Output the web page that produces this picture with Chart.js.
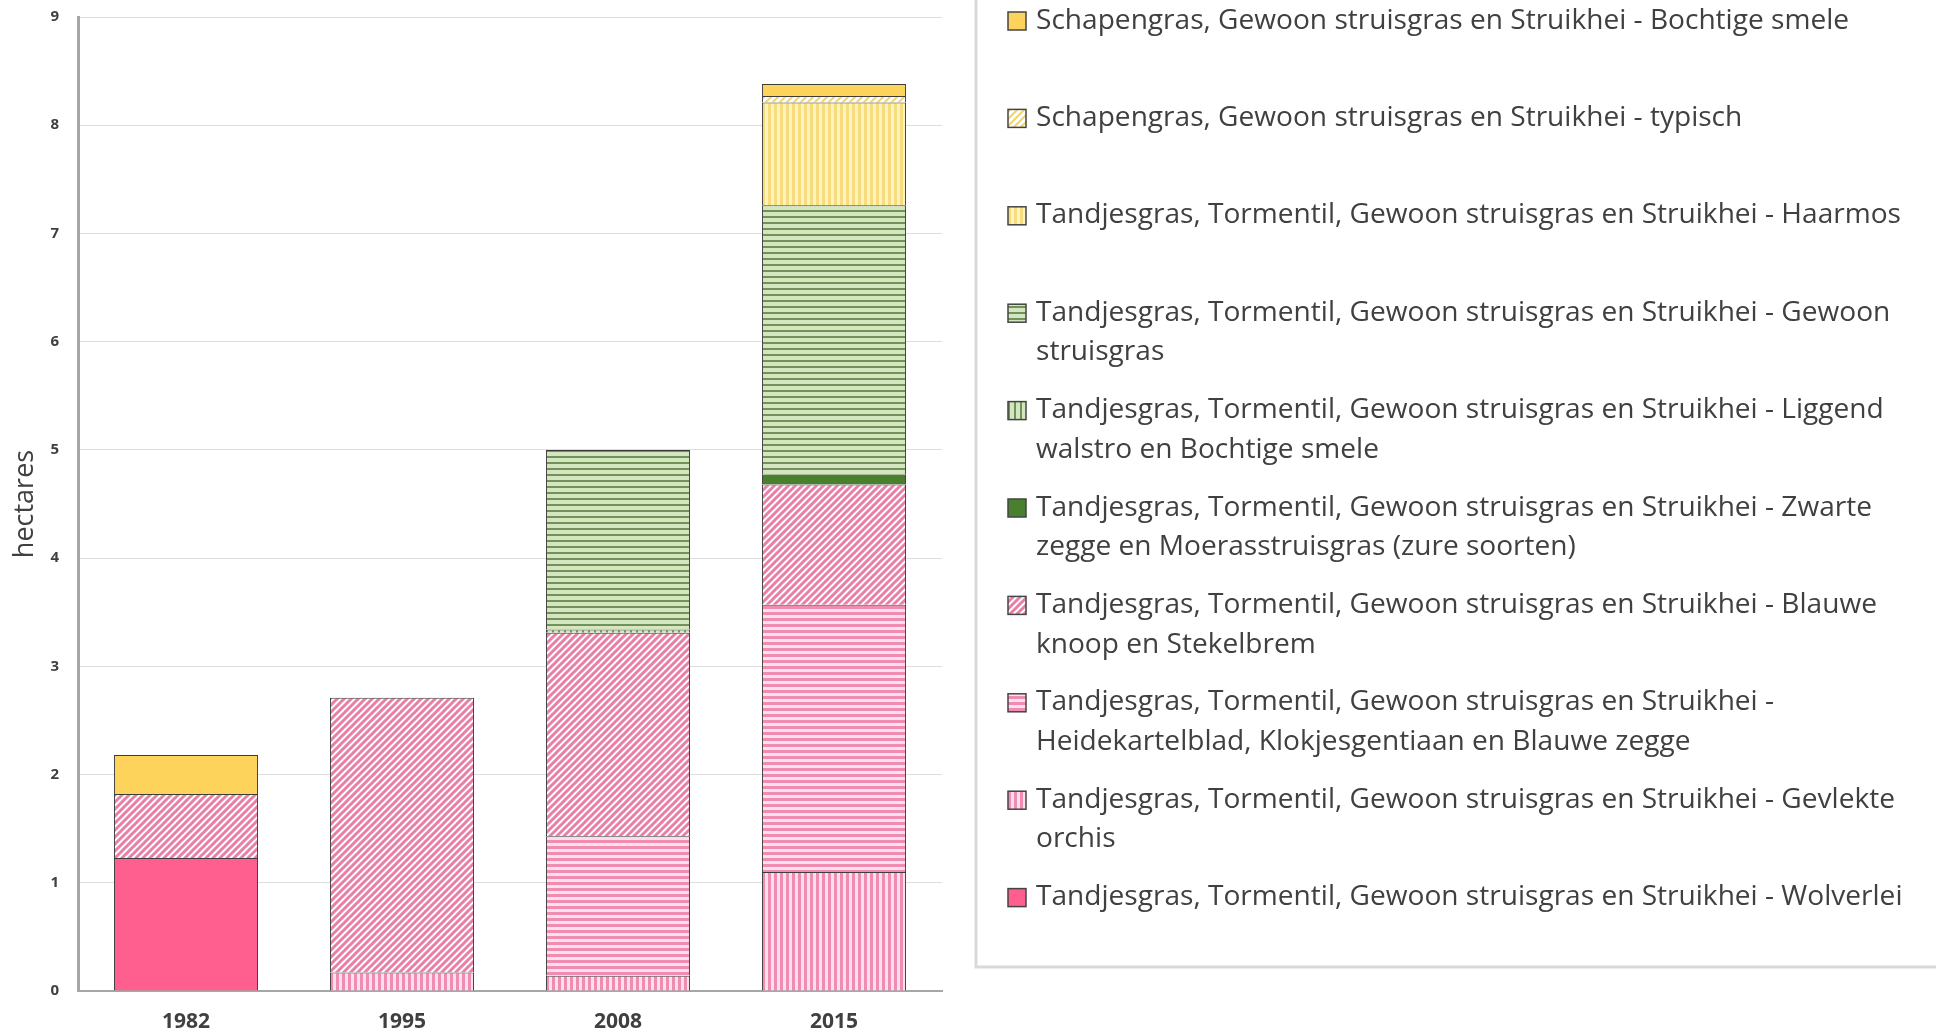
<!DOCTYPE html>
<html>
<head>
<meta charset="utf-8">
<script src="https://cdn.jsdelivr.net/npm/chart.js@4.4.1/dist/chart.umd.min.js"></script>
<style>
  html, body { margin: 0; padding: 0; background: #fff; }
</style>
</head>
<body>
<canvas id="chart" width="1936" height="1034"></canvas>
<script>
const years = ["1982", "1995", "2008", "2015"];

// hectares per vegetation type, stacked bottom to top
const wolverlei        = [1.23, null, null, null];
const gevlekteOrchis   = [null, 0.17, 0.14, 1.10];
const heidekartelblad  = [null, null, 1.29, 2.47];
const blauweKnoop      = [0.59, 2.54, 1.88, 1.11];
const zwarteZegge      = [null, null, null, 0.09];
const liggendWalstro   = [null, null, 0.03, null];
const gewoonStruisgras = [null, null, 1.66, 2.49];
const haarmos          = [null, null, null, 0.95];
const typisch          = [null, null, null, 0.06];
const bochtigeSmele    = [0.36, null, null, 0.11];

const pre = "Tandjesgras, Tormentil, Gewoon struisgras en Struikhei";
const names = [
  [pre + " - Wolverlei"],
  [pre + " - Gevlekte", "orchis"],
  [pre + " -", "Heidekartelblad, Klokjesgentiaan en Blauwe zegge"],
  [pre + " - Blauwe", "knoop en Stekelbrem"],
  [pre + " - Zwarte", "zegge en Moerasstruisgras (zure soorten)"],
  [pre + " - Liggend", "walstro en Bochtige smele"],
  [pre + " - Gewoon", "struisgras"],
  [pre + " - Haarmos"],
  ["Schapengras, Gewoon struisgras en Struikhei - typisch"],
  ["Schapengras, Gewoon struisgras en Struikhei - Bochtige smele"]
];

function hatch(bg, fg, dir, size, lw) {
  const c = document.createElement("canvas");
  c.width = size; c.height = size;
  const g = c.getContext("2d");
  g.fillStyle = bg;
  g.fillRect(0, 0, size, size);
  g.fillStyle = fg;
  g.strokeStyle = fg;
  if (dir === "h") {
    g.fillRect(0, 0, size, lw);
  } else if (dir === "v") {
    g.fillRect(0, 0, lw, size);
  } else {
    g.lineWidth = lw;
    g.beginPath();
    g.moveTo(-size, size * 2); g.lineTo(size * 2, -size);
    g.moveTo(-size * 1.5, size * 1.5); g.lineTo(size * 1.5, -size * 1.5);
    g.moveTo(-size * 0.5, size * 2.5); g.lineTo(size * 2.5, -size * 0.5);
    g.stroke();
  }
  return g.createPattern(c, "repeat");
}

const fills = [
  "#ff5f8e",
  hatch("#fde0ec", "#f08cb2", "v", 6, 3),
  hatch("#fde0ec", "#f08cb2", "h", 6, 3),
  hatch("#ffffff", "#e97fa6", "d", 7, 3),
  "#4a7f2e",
  hatch("#d3e6bf", "#72925a", "v", 6, 2),
  hatch("#d3e6bf", "#72925a", "h", 6, 2),
  hatch("#fff3bd", "#f6dc7c", "v", 6, 3),
  hatch("#ffffff", "#f3d46a", "d", 7, 2),
  "#fdd35b"
];

const series = [wolverlei, gevlekteOrchis, heidekartelblad, blauweKnoop, zwarteZegge,
  liggendWalstro, gewoonStruisgras, haarmos, typisch, bochtigeSmele];

const datasets = series.map((d, i) => ({
  label: names[i].join(" "),
  data: d,
  backgroundColor: fills[i],
  borderColor: "#3c3c3c",
  borderWidth: 1,
  barPercentage: 0.667,
  categoryPercentage: 1.0
}));

// legend in a bordered box on the right, newest type first
const boxLegend = {
  id: "boxLegend",
  afterDraw(chart) {
    const ctx = chart.ctx;
    ctx.save();
    ctx.strokeStyle = "#d9d9d9";
    ctx.lineWidth = 3;
    ctx.strokeRect(976, -10, 1000, 977);

    ctx.font = "27px 'Open Sans', sans-serif";
    const sx = 865 / ctx.measureText(pre + " - Haarmos").width;
    ctx.textBaseline = "middle";

    const ds = chart.data.datasets.slice().reverse();
    const lines = names.slice().reverse();
    ds.forEach((d, i) => {
      const y = 21 + i * 97.4;
      ctx.fillStyle = d.backgroundColor;
      ctx.fillRect(1008, y - 9, 18, 18);
      ctx.strokeStyle = "#444";
      ctx.lineWidth = 1.5;
      ctx.strokeRect(1008, y - 9, 18, 18);
      ctx.fillStyle = "#404040";
      lines[i].forEach((t, k) => {
        ctx.save();
        ctx.translate(1036, y + k * 39.5);
        ctx.scale(sx, 1);
        ctx.fillText(t, 0, 0);
        ctx.restore();
      });
    });
    ctx.restore();
  }
};

Chart.defaults.font.family = "'Open Sans', sans-serif";
Chart.defaults.color = "#404040";

new Chart(document.getElementById("chart"), {
  type: "bar",
  data: { labels: years, datasets: datasets },
  plugins: [boxLegend],
  options: {
    responsive: false,
    animation: false,
    layout: { padding: { left: 0, top: 17, right: 994, bottom: 0 } },
    plugins: {
      legend: { display: false },
      tooltip: { enabled: true }
    },
    scales: {
      x: {
        stacked: true,
        grid: { display: false, drawTicks: false },
        border: { color: "#a6a6a6", width: 2 },
        ticks: { padding: 18, font: { size: 21, weight: "bold" } },
        afterFit(s) { s.height = 43; }
      },
      y: {
        stacked: true,
        min: 0,
        max: 9,
        ticks: { stepSize: 1, padding: 19, font: { size: 15, weight: "bold" } },
        grid: { color: "#dedede", drawTicks: false },
        border: { color: "#a6a6a6", width: 3 },
        title: { display: true, text: "hectares", font: { size: 27 }, padding: { top: 9, bottom: 0 } },
        afterFit(s) {
          s.width = 78;
          s.paddingTop = 0;
          s.paddingBottom = 0;
        }
      }
    }
  }
});
</script>
</body>
</html>
